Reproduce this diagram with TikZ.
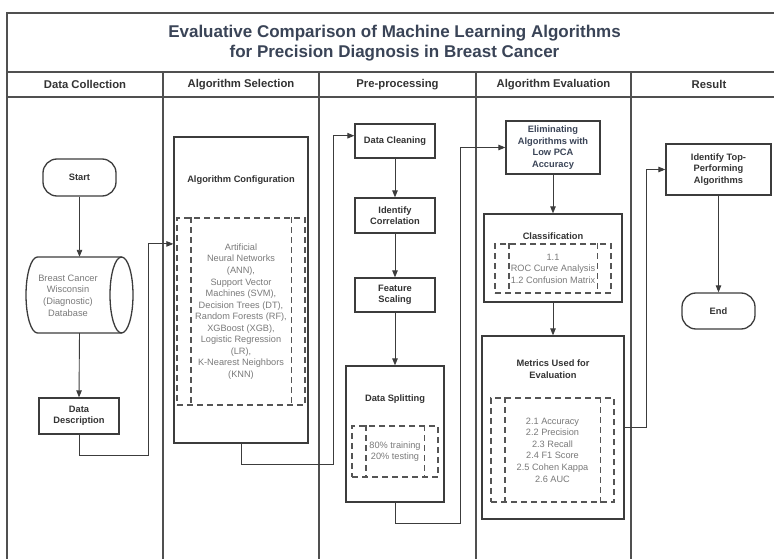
\documentclass[tikz,border=0pt]{standalone}
\usepackage{fontspec}
\setmainfont{Liberation Sans}
\usetikzlibrary{arrows.meta,calc}
\definecolor{linec}{HTML}{3C3C3C}
\definecolor{framec}{HTML}{505050}
\definecolor{titlec}{HTML}{3A4457}
\definecolor{txtc}{HTML}{333333}
\definecolor{greyt}{HTML}{7A7A7A}
\definecolor{dashc}{HTML}{555555}
\begin{document}
\begin{tikzpicture}[x=1pt,y=-1pt,
  box/.style={draw=linec, line width=1.3pt, fill=white, inner sep=0pt, align=center, text=txtc, font=\fontsize{9.3}{11.5}\selectfont\bfseries},
  pill/.style={box, rounded corners=14pt},
  dbox/.style={draw=dashc, line width=1.2pt, dash pattern=on 6pt off 4pt, inner sep=0pt, align=center, text=greyt, font=\fontsize{9.2}{11.55}\selectfont},
  dln/.style={draw=dashc, line width=1.2pt, dash pattern=on 6pt off 4pt},
  lbl/.style={inner sep=0pt, align=center, text=txtc, font=\fontsize{9.3}{11.5}\selectfont\bfseries},
  conn/.style={draw=linec, line width=0.9pt},
  arr/.style={conn, -{Triangle[length=7pt,width=5.5pt]}},
  lane/.style={draw=framec, line width=1.4pt},
  hdr/.style={inner sep=0pt, text=txtc, font=\fontsize{11.3}{13}\selectfont\bfseries}
]
\useasboundingbox (0,0) rectangle (774,559);
\fill[white] (0,0) rectangle (774,559);

% frame and lanes
\draw[lane] (774,13) -- (7,13) -- (7,559);
\draw[lane] (7,72) -- (774,72);
\draw[lane] (7,97) -- (774,97);
\foreach \x in {163,319,476,631} \draw[lane] (\x,72) -- (\x,559);

\node[inner sep=0pt, align=center, text=titlec, font=\fontsize{17}{20}\selectfont\bfseries] (title) at (394.5,43)
  {Evaluative Comparison of Machine Learning Algorithms\\for Precision Diagnosis in Breast Cancer};
\node[hdr] (h1) at (85,84.5) {Data Collection};
\node[hdr] (h2) at (241,84.5) {Algorithm Selection};
\node[hdr] (h3) at (397.5,84.5) {Pre-processing};
\node[hdr] (h4) at (553.5,84.5) {Algorithm Evaluation};
\node[hdr] (h5) at (709,84.5) {Result};

% Data collection lane
\node[pill, minimum width=73pt, minimum height=37pt] (start) at (79.5,177.5) {Start};
\node[inner sep=0pt, minimum width=107pt, minimum height=76pt] (db) at (79.5,295) {};
\draw[linec, line width=1.3pt] (121.5,295) ellipse [x radius=11.5pt, y radius=38pt];
\draw[linec, line width=1.3pt] (121.5,257) -- (37.5,257) arc[start angle=90, end angle=270, x radius=11.5pt, y radius=38pt] -- (121.5,333);
\node[inner sep=0pt, align=center, text=greyt, font=\fontsize{9.3}{11.7}\selectfont] (dbt) at (68,295.5)
  {Breast Cancer\\Wisconsin\\(Diagnostic)\\Database};
\node[box, minimum width=80pt, minimum height=36pt] (dd) at (79,416) {Data\\Description};

% Algorithm selection lane
\node[box, minimum width=134pt, minimum height=306pt] (ac) at (241,290) {};
\node[lbl] (actitle) at (241,180) {Algorithm Configuration};
\node[dbox, minimum width=128pt, minimum height=187pt] (acd) at (241,311.5)
  {Artificial\\Neural Networks\\(ANN),\\Support Vector\\Machines (SVM),\\Decision Trees (DT),\\Random Forests (RF),\\XGBoost (XGB),\\Logistic Regression\\(LR),\\K-Nearest Neighbors\\(KNN)};

% Pre-processing lane
\node[box, minimum width=80pt, minimum height=34pt] (dc) at (395,141) {Data Cleaning};
\node[box, minimum width=80pt, minimum height=35pt] (ic) at (395,215.5) {Identify\\Correlation};
\node[box, minimum width=80pt, minimum height=34pt] (fs) at (395,295) {Feature\\Scaling};
\node[box, minimum width=98pt, minimum height=136pt] (ds) at (395,434) {};
\node[lbl] (dstitle) at (395,399) {Data Splitting};
\node[dbox, minimum width=86pt, minimum height=51pt] (dsd) at (395,451.5) {80\% training\\20\% testing};

% Algorithm evaluation lane
\node[box, minimum width=94pt, minimum height=53pt, text=titlec] (el) at (553,147.5) {Eliminating\\Algorithms with\\Low PCA\\Accuracy};
\node[box, minimum width=138pt, minimum height=88pt] (cl) at (553,258) {};
\node[lbl] (cltitle) at (553,236) {Classification};
\node[dbox, minimum width=116pt, minimum height=49pt] (cld) at (553,268.5) {1.1\\ROC Curve Analysis\\1.2 Confusion Matrix};
\node[box, minimum width=142pt, minimum height=183pt] (me) at (553,427.5) {};
\node[lbl] (metitle) at (553,369) {Metrics Used for\\Evaluation};
\node[dbox, minimum width=123pt, minimum height=104pt] (med) at (552.5,450)
  {2.1 Accuracy\\2.2 Precision\\2.3 Recall\\2.4 F1 Score\\2.5 Cohen Kappa\\2.6 AUC};

% Result lane
\node[box, minimum width=105pt, minimum height=51pt] (itp) at (718.5,169.5) {Identify Top-\\Performing\\Algorithms};
\node[pill, minimum width=73pt, minimum height=36pt] (end) at (718.5,311) {End};

% inner dashed verticals
\foreach \n in {acd,dsd,cld,med} {
  \draw[dln] ([xshift=14.5pt]\n.north west) -- ([xshift=14.5pt]\n.south west);
  \draw[dln] ([xshift=-14.5pt]\n.north east) -- ([xshift=-14.5pt]\n.south east);
}

% connectors
\coordinate (c1) at (148,455);
\coordinate (c2) at (333,464);
\coordinate (c3) at (460,523);
\coordinate (c4) at (646,427.5);
\draw[arr] (start.south) -- (db.north);
\draw[arr] (db.south) -- (dd.north);
\draw[arr] (dd.south) |- (c1) |- ($(ac.north west)!0.35!(ac.south west)$);
\draw[arr] (ac.south) |- (c2) |- ($(dc.north west)!0.35!(dc.south west)$);
\draw[arr] (dc.south) -- (ic.north);
\draw[arr] (ic.south) -- (fs.north);
\draw[arr] (fs.south) -- (ds.north);
\draw[arr] (ds.south) |- (c3) |- (el.west);
\draw[arr] (el.south) -- (cl.north);
\draw[arr] (cl.south) -- (me.north);
\draw[arr] (me.east) -- (c4) |- (itp.west);
\draw[arr] (itp.south) -- (end.north);
\end{tikzpicture}
\end{document}
